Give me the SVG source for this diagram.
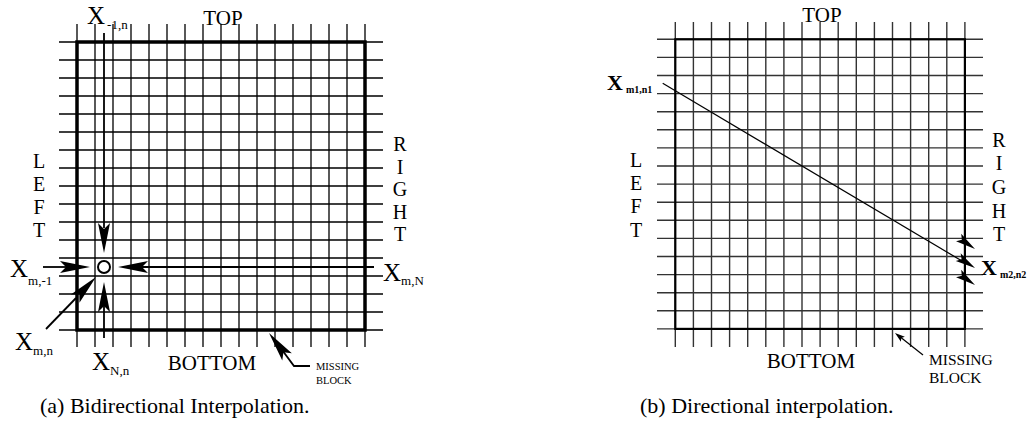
<svg xmlns="http://www.w3.org/2000/svg" xmlns:xlink="http://www.w3.org/1999/xlink" width="1034" height="433" viewBox="0 0 1034 433">
<style>
text{font-family:"Liberation Serif","Times New Roman",serif;fill:#000}
.lbl{font-size:21px}
.ltr{font-size:20px;text-anchor:middle}
.X{font-size:25px}
.sub{font-size:13px}
.bX{font-size:22px;font-weight:bold}
.bsub{font-size:10px;font-weight:bold}
.small{font-size:10.5px}
.mid{font-size:15.5px}
.cap{font-size:22px}
.grid{fill:none;stroke:#000;stroke-width:1.3}
.gridb{fill:none;stroke:#333;stroke-width:1.4}
.boxa{fill:none;stroke:#000;stroke-width:3.5}
.boxb{fill:none;stroke:#000;stroke-width:2.2}
.ln{fill:none;stroke:#000;stroke-width:1.8}
.thin{fill:none;stroke:#000;stroke-width:1.2}
</style>
<defs>
<path id="bigHead" d="M0,0 L-30,-6 L-24,0 L-30,6 Z" fill="#000"/>
<path id="smallHead" d="M0,0 L-20,-4.5 L-16,0 L-20,4.5 Z" fill="#000"/>
<path id="tinyHead" d="M0,0 L-10,-3.2 L-8,0 L-10,3.2 Z" fill="#000"/>
</defs>
<rect width="1034" height="433" fill="#fff"/>

<g id="grid-a">
<path class="grid" d="M77,24V347M95,24V347M113,24V347M131,24V347M149,24V347M167,24V347M185,24V347M203,24V347M221,24V347M239,24V347M257,24V347M275,24V347M293,24V347M311,24V347M329,24V347M347,24V347M365,24V347"/>
<path class="grid" d="M59,42H383M59,60H383M59,78H383M59,96H383M59,114H383M59,132H383M59,150H383M59,168H383M59,186H383M59,204H383M59,222H383M59,240H383M59,258H383M59,276H383M59,294H383M59,312H383M59,330H383"/>
<rect class="boxa" x="77" y="42" width="288" height="288"/>
</g>

<g id="labels-a">
<text class="lbl" x="223" y="25" text-anchor="middle">TOP</text>
<text class="lbl" x="212" y="370" text-anchor="middle">BOTTOM</text>
<text class="ltr" x="39" y="168">L</text>
<text class="ltr" x="39" y="191">E</text>
<text class="ltr" x="39" y="214">F</text>
<text class="ltr" x="39" y="237">T</text>
<text class="ltr" x="400" y="151">R</text>
<text class="ltr" x="400" y="173.5">I</text>
<text class="ltr" x="400" y="196">G</text>
<text class="ltr" x="400" y="218.5">H</text>
<text class="ltr" x="400" y="241">T</text>
</g>

<g id="node-x-top"><text x="87" y="24"><tspan class="X">X</tspan><tspan class="sub" dx="2" dy="5">-1,n</tspan></text></g>
<g id="node-x-left"><text x="10" y="277"><tspan class="X">X</tspan><tspan class="sub" dy="8">m,-1</tspan></text></g>
<g id="node-x-mn"><text x="15" y="350"><tspan class="X">X</tspan><tspan class="sub" dy="5">m,n</tspan></text></g>
<g id="node-x-bottom"><text x="92" y="370"><tspan class="X">X</tspan><tspan class="sub" dy="5">N,n</tspan></text></g>
<g id="node-x-right"><text x="383" y="281"><tspan class="X">X</tspan><tspan class="sub" dy="4">m,N</tspan></text></g>
<g id="node-missing-a"><text class="small" x="316" y="370">MISSING</text><text class="small" x="316" y="384">BLOCK</text></g>
<g id="node-center"><circle cx="104" cy="267" r="6" fill="#fff" stroke="#000" stroke-width="2"/></g>

<g id="grid-b">
<path class="gridb" d="M675.3,22V347M693.4,22V347M711.5,22V347M729.6,22V347M747.7,22V347M765.8,22V347M783.9,22V347M802,22V347M820.1,22V347M838.2,22V347M856.3,22V347M874.4,22V347M892.5,22V347M910.6,22V347M928.7,22V347M946.8,22V347M964.9,22V347"/>
<path class="gridb" d="M657,39.3H983M657,57.4H983M657,75.5H983M657,93.6H983M657,111.7H983M657,129.8H983M657,147.9H983M657,166H983M657,184.1H983M657,202.2H983M657,220.3H983M657,238.4H983M657,256.5H983M657,274.6H983M657,292.7H983M657,310.8H983M657,328.9H983"/>
<rect class="boxb" x="675.3" y="39.3" width="289.6" height="289.6"/>
</g>

<g id="labels-b">
<text class="lbl" x="822" y="22" text-anchor="middle">TOP</text>
<text class="lbl" x="811" y="368" text-anchor="middle">BOTTOM</text>
<text class="ltr" x="636" y="167">L</text>
<text class="ltr" x="636" y="190">E</text>
<text class="ltr" x="636" y="213">F</text>
<text class="ltr" x="636" y="237">T</text>
<text class="ltr" x="999" y="147">R</text>
<text class="ltr" x="999" y="170">I</text>
<text class="ltr" x="999" y="194">G</text>
<text class="ltr" x="999" y="218">H</text>
<text class="ltr" x="999" y="241">T</text>
</g>

<g id="node-x-m1n1"><text x="607" y="90"><tspan class="bX">X</tspan><tspan class="bsub" dx="3" dy="3">m1,n1</tspan></text></g>
<g id="node-x-m2n2"><text x="981" y="275"><tspan class="bX">X</tspan><tspan class="bsub" dx="3" dy="3">m2,n2</tspan></text></g>
<g id="node-missing-b"><text class="mid" x="929" y="365">MISSING</text><text class="mid" x="929" y="383">BLOCK</text></g>

<g id="connectors">
<line class="ln" x1="104" y1="33" x2="104" y2="228"/>
<use href="#bigHead" transform="translate(104,253) rotate(90)"/>
<line class="ln" x1="104" y1="338" x2="104" y2="306"/>
<use href="#bigHead" transform="translate(104,282) rotate(-90)"/>
<line class="ln" x1="43" y1="267" x2="66" y2="267"/>
<use href="#bigHead" transform="translate(90,267)"/>
<line class="ln" x1="142" y1="267" x2="374" y2="267"/>
<use href="#bigHead" transform="translate(118,267) rotate(180)"/>
<line class="ln" x1="46" y1="329" x2="76" y2="298"/>
<use href="#bigHead" transform="translate(96,277) rotate(-46)"/>
<polyline class="ln" points="310,366 294,366 274,339"/>
<use href="#bigHead" transform="translate(269,333) rotate(233)"/>

<line class="thin" x1="662.7" y1="83.3" x2="962" y2="261"/>
<use href="#smallHead" transform="translate(975,249) rotate(35)"/>
<use href="#smallHead" transform="translate(975,268) rotate(33)"/>
<use href="#smallHead" transform="translate(975,285) rotate(35)"/>
<line class="thin" x1="923" y1="355" x2="899" y2="336"/>
<use href="#tinyHead" transform="translate(895,333) rotate(218)"/>
</g>

<g id="captions">
<text class="cap" x="40" y="413">(a) Bidirectional Interpolation.</text>
<text class="cap" x="640" y="413">(b) Directional interpolation.</text>
</g>
</svg>
